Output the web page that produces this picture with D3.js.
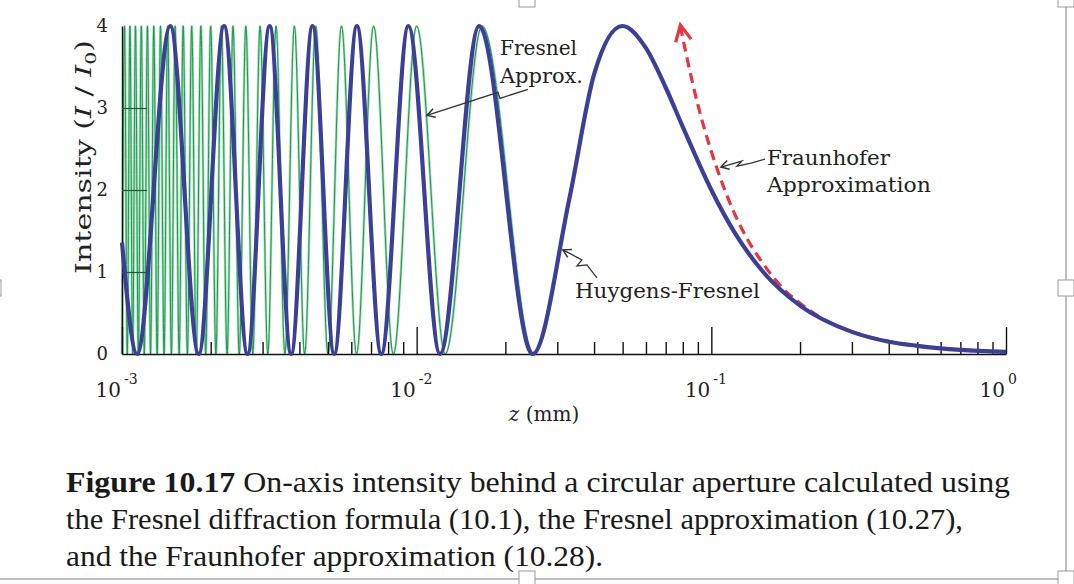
<!DOCTYPE html>
<html>
<head>
<meta charset="utf-8">
<script src="https://cdn.jsdelivr.net/npm/d3@7"></script>
<style>
  body { margin: 0; background: #fff; }
  svg { display: block; }
</style>
</head>
<body>
<div id="chart"></div>
<script>
// Huygens-Fresnel (blue): z in mm, intensity I/I0 (extrema + tail)
var blueZ = [0.001, 0.001125, 0.001458, 0.001821, 0.002221, 0.002667, 0.00317, 0.00375,
             0.004431, 0.00525, 0.006268, 0.007583, 0.009375, 0.012, 0.01629, 0.02475,
             0.033, 0.04, 0.0499];
var blueI = [1.36, 0, 4, 0, 4, 0, 4, 0,
             4, 0, 4, 0, 4, 0, 4, 0,
             1.9, 3.41, 4];
// Fresnel approximation (green): peak and zero positions, plus the rising side of the main lobe
var greenPeakZ = [0.05, 0.01667, 0.01, 0.007143, 0.005556, 0.004545, 0.003846, 0.003333,
                  0.002941, 0.002632, 0.002381, 0.002174, 0.002, 0.001852, 0.001724, 0.001613,
                  0.001515, 0.001429, 0.001351, 0.001282, 0.00122, 0.001163, 0.001111, 0.001064, 0.00102];
var greenZeroZ = [0.025, 0.0125, 0.008333, 0.00625, 0.005, 0.004167, 0.003571, 0.003125,
                  0.002778, 0.0025, 0.002273, 0.002083, 0.001923, 0.001786, 0.001667, 0.001563,
                  0.001471, 0.001389, 0.001316, 0.00125, 0.00119, 0.001136, 0.001087, 0.001042, 0.001];
var greenMidZ = [0.033, 0.04];
var greenMidI = [1.92, 3.42];
// decaying tail shared by both Fresnel curves beyond the last maximum
var tailZ = [0.06, 0.07, 0.08, 0.1, 0.12, 0.15, 0.2, 0.3, 0.4, 0.5, 0.7, 1.0];
var tailI = [3.73, 3.25, 2.77, 2.0, 1.48, 1.0, 0.59, 0.27, 0.15, 0.1, 0.05, 0.025];
// Fraunhofer approximation (red dashed)
var redZ = [0.0785, 0.082, 0.09, 0.1, 0.11, 0.12, 0.135, 0.15, 0.175, 0.2, 0.25, 0.3, 0.4, 0.5, 0.7, 1.0];
var redI = [4, 3.67, 3.04, 2.47, 2.04, 1.71, 1.35, 1.1, 0.8, 0.62, 0.39, 0.27, 0.154, 0.099, 0.05, 0.025];

var yTicks = [0, 1, 2, 3, 4];
var decades = [0.001, 0.01, 0.1, 1];
var decadeExp = ["-3", "-2", "-1", "0"];

var captionBold = "Figure 10.17";
var captionLines = [
  " On-axis intensity behind a circular aperture calculated using",
  "the Fresnel diffraction formula (10.1), the Fresnel approximation (10.27),",
  "and the Fraunhofer approximation (10.28)."
];

var W = 1074, H = 584;
var svg = d3.select("#chart").append("svg")
    .attr("width", W).attr("height", H);

var x = d3.scaleLog().domain([1e-3, 1]).range([122, 1006]);
var y = d3.scaleLinear().domain([0, 4]).range([354, 26]);

var serif = "'DejaVu Serif', serif";
var ink = "#222";

// page frame (document selection look)
svg.append("line").attr("x1", 1066).attr("x2", 1066).attr("y1", 0).attr("y2", H)
    .attr("stroke", "#a8a8a8").attr("stroke-width", 1.5);
svg.append("line").attr("x1", 0).attr("x2", 1066).attr("y1", 579).attr("y2", 579)
    .attr("stroke", "#a8a8a8").attr("stroke-width", 1.5);
[[527, -1], [1066, -1], [1066, 288], [527, 579], [1066, 579], [-7, 288]].forEach(function (h) {
  svg.append("rect").attr("x", h[0] - 8).attr("y", h[1] - 8).attr("width", 16).attr("height", 16)
      .attr("fill", "#fff").attr("stroke", "#999").attr("stroke-width", 1);
});

// series
var line = d3.line()
    .x(function (d) { return x(d[0]); })
    .y(function (d) { return y(d[1]); })
    .curve(d3.curveMonotoneX);

var tail = tailZ.map(function (z, i) { return [z, tailI[i]]; });
var green = greenPeakZ.map(function (z) { return [z, 4]; })
    .concat(greenZeroZ.map(function (z) { return [z, 0]; }))
    .concat(greenMidZ.map(function (z, i) { return [z, greenMidI[i]]; }))
    .sort(function (a, b) { return a[0] - b[0]; })
    .concat(tail);
var blue = blueZ.map(function (z, i) { return [z, blueI[i]]; }).concat(tail);
var red = redZ.map(function (z, i) { return [z, redI[i]]; });

// green drawn as a pale halo with a thin darker core, like the printed figure
svg.append("path").datum(green).attr("d", line)
    .attr("fill", "none").attr("stroke", "#a9dcb8").attr("stroke-width", 2.6);
svg.append("path").datum(green).attr("d", line)
    .attr("fill", "none").attr("stroke", "#179a4f").attr("stroke-width", 1);

// axes (above the green, below the blue)
var xAxis = d3.axisBottom(x)
    .tickValues(x.ticks())
    .tickFormat(function () { return ""; })
    .tickSizeInner(-12).tickSizeOuter(0);
var gx = svg.append("g").attr("transform", "translate(0," + y(0) + ")").call(xAxis);
gx.select(".domain").attr("stroke", "#111").attr("stroke-width", 1.6);
gx.selectAll(".tick line").attr("stroke", "#111").attr("stroke-width", 1.4)
    .attr("y2", function (d) { return decades.indexOf(d) >= 0 ? -27 : -12; });

var yAxis = d3.axisLeft(y).tickValues(yTicks)
    .tickSizeInner(-25).tickSizeOuter(0).tickPadding(14)
    .tickFormat(d3.format("d"));
var gy = svg.append("g").attr("transform", "translate(" + x(1e-3) + ",0)").call(yAxis);
gy.select(".domain").attr("stroke", "#111").attr("stroke-width", 1.4);
gy.selectAll(".tick line").attr("stroke", "#1d5a33").attr("stroke-width", 1.2)
    .attr("display", function (d) { return d === 0 || d === 4 ? "none" : null; });
gy.selectAll(".tick text").attr("font-family", serif).attr("font-size", 18).attr("fill", ink);

// decade labels with superscripts
var dl = svg.append("g").attr("font-family", serif).attr("fill", ink);
decades.forEach(function (d, i) {
  dl.append("text").attr("x", x(d) - 1).attr("y", 397).attr("text-anchor", "end")
      .attr("font-size", 20).text("10");
  dl.append("text").attr("x", x(d) + 2).attr("y", 384)
      .attr("font-size", 14).text(decadeExp[i]);
});

// axis titles
var xt = svg.append("text").attr("x", 544).attr("y", 421).attr("text-anchor", "middle")
    .attr("font-family", serif).attr("font-size", 20).attr("fill", ink);
xt.append("tspan").attr("font-style", "italic").text("z");
xt.append("tspan").text(" (mm)");

var yt = svg.append("text")
    .attr("transform", "translate(91,157) rotate(-90)")
    .attr("text-anchor", "middle")
    .attr("font-family", serif).attr("font-size", 22).attr("fill", ink)
    .attr("textLength", 234).attr("lengthAdjust", "spacingAndGlyphs");
yt.append("tspan").text("Intensity (");
yt.append("tspan").attr("font-style", "italic").text("I");
yt.append("tspan").text(" / ");
yt.append("tspan").attr("font-style", "italic").text("I");
yt.append("tspan").attr("font-size", 15).attr("dy", 5).text("0");
yt.append("tspan").attr("dy", -5).text(")");

svg.append("path").datum(red).attr("d", line)
    .attr("fill", "none").attr("stroke", "#e8343c").attr("stroke-width", 3.2)
    .attr("stroke-dasharray", "10,6");

// red open arrowhead at the clipped top of the Fraunhofer curve
(function () {
  var tx = x(red[0][0]), ty = y(red[0][1]);
  var bx = x(red[1][0]), by = y(red[1][1]);
  var a = Math.atan2(by - ty, bx - tx), L = 17, s = Math.PI / 6.5;
  var p = [[tx + L * Math.cos(a - s), ty + L * Math.sin(a - s)], [tx, ty - 1],
           [tx + L * Math.cos(a + s), ty + L * Math.sin(a + s)]];
  svg.append("path").attr("d", d3.line()(p)).attr("fill", "none")
      .attr("stroke", "#e8343c").attr("stroke-width", 3.2).attr("stroke-linejoin", "miter");
})();

svg.append("path").datum(blue).attr("d", line)
    .attr("fill", "none").attr("stroke", "#3c3f98").attr("stroke-width", 4.2)
    .attr("stroke-linejoin", "round");

// annotations: tip in data units, zig-zag leader and text as pixel offsets from the tip
var notes = [
  { tip: [0.01084, 2.91], path: [[0, 0], [71, -23], [73, -17], [101, -26]],
    text: [["Fresnel", 73, -60, 77], ["Approx.", 73, -32, 83]] },
  { tip: [0.03136, 1.27], path: [[0, 0], [19, 10], [14, 16], [24, 15], [34, 28]],
    text: [["Huygens-Fresnel", 12, 48, 185]] },
  { tip: [0.1078, 2.28], path: [[0, 0], [21, -6], [16, -1], [30, -4], [44, -8]],
    text: [["Fraunhofer", 46, -2, 123], ["Approximation", 46, 25, 164]] }
];
var ng = svg.append("g");
notes.forEach(function (n) {
  var tx = x(n.tip[0]), ty = y(n.tip[1]);
  var pts = n.path.map(function (p) { return [tx + p[0], ty + p[1]]; });
  ng.append("path").attr("d", d3.line()(pts)).attr("fill", "none")
      .attr("stroke", "#333").attr("stroke-width", 1.3);
  var a = Math.atan2(pts[1][1] - ty, pts[1][0] - tx), L = 9, s = Math.PI / 6;
  ng.append("path").attr("d", d3.line()([
      [tx + L * Math.cos(a - s), ty + L * Math.sin(a - s)], [tx, ty],
      [tx + L * Math.cos(a + s), ty + L * Math.sin(a + s)]]))
      .attr("fill", "none").attr("stroke", "#333").attr("stroke-width", 1.5);
  n.text.forEach(function (t) {
    ng.append("text").attr("x", tx + t[1]).attr("y", ty + t[2])
        .attr("font-family", serif).attr("font-size", 20).attr("fill", ink)
        .attr("textLength", t[3]).attr("lengthAdjust", "spacingAndGlyphs")
        .text(t[0]);
  });
});

// caption
var cap = svg.append("g").attr("font-family", "'Liberation Serif', serif")
    .attr("font-size", 29).attr("fill", "#1a1a1a");
var capWidths = [944, 897, 537];
var capBase = [492, 529, 566];
captionLines.forEach(function (s, i) {
  var t = cap.append("text").attr("x", 66).attr("y", capBase[i])
      .attr("textLength", capWidths[i]).attr("lengthAdjust", "spacingAndGlyphs");
  if (i === 0) t.append("tspan").attr("font-weight", "bold").text(captionBold);
  t.append("tspan").text(s);
});
</script>
</body>
</html>
